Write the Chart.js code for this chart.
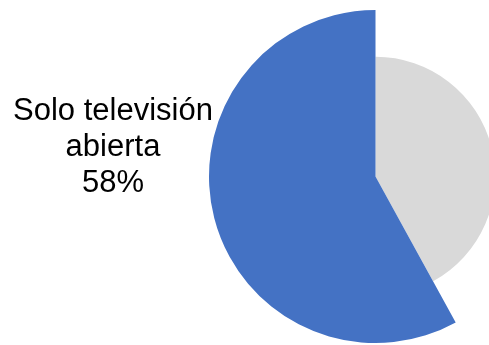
<!DOCTYPE html>
<html lang="es">
<head>
    <meta charset="UTF-8">
    <title>Solo televisión abierta</title>
    <script src="https://cdn.jsdelivr.net/npm/chart.js"></script>
    <style>
        html, body { margin: 0; padding: 0; background: #ffffff; overflow: hidden; }
        #chartContainer { position: relative; width: 560px; height: 345px; }
    </style>
</head>
<body>
    <div id="chartContainer">
        <canvas id="pieChart"></canvas>
    </div>

    <script>
        // chart values
        const categories = ['Otros', 'Solo televisión abierta'];
        const shares = [42, 58];
        const sliceColors = ['#D9D9D9', '#4472C4'];
        const labelLines = ['Solo televisión', 'abierta', '58%'];

        // the grey slice is drawn with a smaller radius than the blue one
        const shrinkSlice = {
            id: 'shrinkSlice',
            beforeDatasetsDraw(chart) {
                const arcs = chart.getDatasetMeta(0).data;
                arcs[0].outerRadius = arcs[1].outerRadius * 120 / 167;
            }
        };

        // outside label for the blue slice
        const sliceLabel = {
            id: 'sliceLabel',
            afterDatasetsDraw(chart) {
                const ctx = chart.ctx;
                const arc = chart.getDatasetMeta(0).data[1];
                const cx = arc.x - arc.outerRadius - 96;
                ctx.save();
                ctx.fillStyle = '#000000';
                ctx.font = '31px "Liberation Sans", Arial, sans-serif';
                ctx.textAlign = 'center';
                ctx.textBaseline = 'alphabetic';
                labelLines.forEach((line, i) => {
                    ctx.fillText(line, cx, 120 + i * 36);
                });
                ctx.restore();
            }
        };

        new Chart(document.getElementById('pieChart'), {
            type: 'pie',
            data: {
                labels: categories,
                datasets: [{
                    data: shares,
                    backgroundColor: sliceColors,
                    borderWidth: 0
                }]
            },
            options: {
                responsive: true,
                maintainAspectRatio: false,
                animation: false,
                layout: { padding: { left: 209, top: 10, right: 18, bottom: 2 } },
                plugins: {
                    legend: { display: false },
                    tooltip: { enabled: false }
                }
            },
            plugins: [shrinkSlice, sliceLabel]
        });
    </script>
</body>
</html>
